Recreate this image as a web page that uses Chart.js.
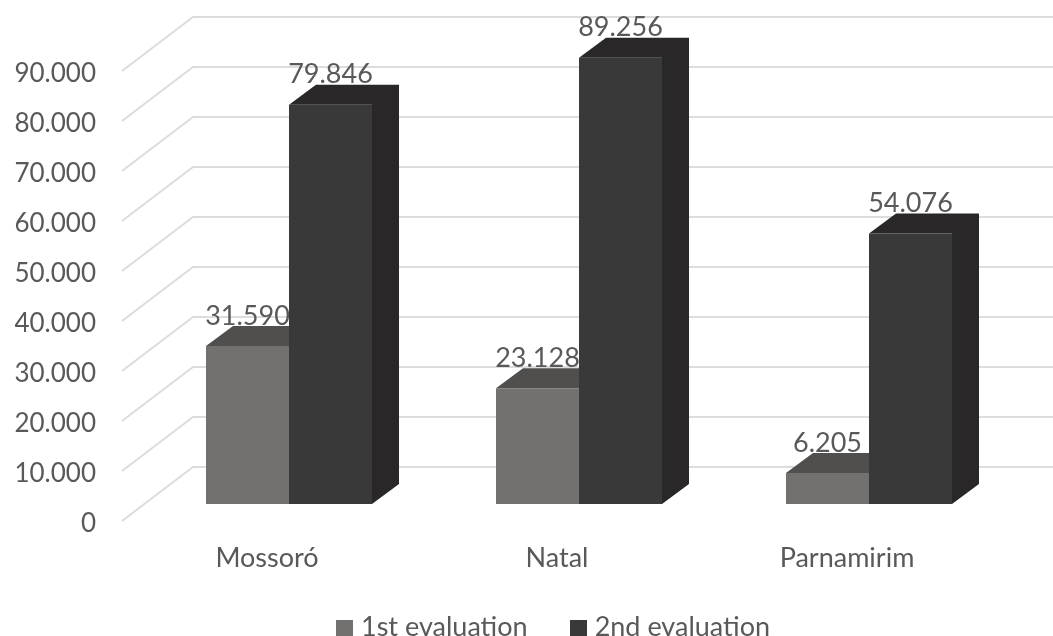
<!DOCTYPE html>
<html>
<head>
<meta charset="utf-8">
<title>Evaluations by city</title>
<script src="https://cdn.jsdelivr.net/npm/chart.js@4/dist/chart.umd.min.js"></script>
<style>
    html, body { margin: 0; padding: 0; background: #fff; overflow: hidden; }
    #wrap { position: relative; width: 1053px; height: 636px; }
    #legend { position: absolute; left: 336px; top: 610px; display: flex; font: 27px Lato, sans-serif; color: #595959; line-height: 32px; white-space: nowrap; }
    #legend .item { display: flex; align-items: center; margin-right: 42px; }
    #legend .box { width: 17px; height: 17px; margin-right: 8px; margin-top: 4px; }
</style>
</head>
<body>
<div id="wrap">
    <canvas id="chart" width="1053" height="636"></canvas>
    <div id="legend"></div>
</div>
<script>
const categories = ['Mossoró', 'Natal', 'Parnamirim'];
const firstEvaluation = [31590, 23128, 6205];
const secondEvaluation = [79846, 89256, 54076];
const seriesNames = ['1st evaluation', '2nd evaluation'];
const yTicks = [0, 10000, 20000, 30000, 40000, 50000, 60000, 70000, 80000, 90000];

const frontColors = ['#737070', '#393939'];
const shadeColors = ['#514f4d', '#292727'];
const textColor = '#595959';
const gridColor = '#dcdcdc';

// depth of the fake 3D box
const barDepthX = 27;
const barDepthY = 20;

function formatNumber(value) {
    return String(value).replace(/\B(?=(\d{3})+$)/g, '.');
}

// Draws the wall gridlines, value labels, and top/side faces behind the bars
const box3d = {
    id: 'box3d',
    beforeDatasetsDraw(chart) {
        const ctx = chart.ctx;
        const y = chart.scales.y;

        ctx.save();
        ctx.strokeStyle = gridColor;
        ctx.lineWidth = 2;
        yTicks.forEach(tick => {
            const py = y.getPixelForValue(tick);
            ctx.beginPath();
            ctx.moveTo(122, py + 17);
            ctx.lineTo(193, py - 37);
            ctx.lineTo(1053, py - 37);
            ctx.stroke();
        });

        chart.data.datasets.forEach((dataset, i) => {
            chart.getDatasetMeta(i).data.forEach((bar, j) => {
                const left = bar.x - bar.width / 2;
                const right = bar.x + bar.width / 2;

                ctx.font = '27px Lato, sans-serif';
                ctx.fillStyle = textColor;
                ctx.textAlign = 'center';
                ctx.textBaseline = 'middle';
                ctx.fillText(formatNumber(dataset.data[j]), bar.x, bar.y - 30);

                ctx.fillStyle = shadeColors[i];
                ctx.beginPath();
                ctx.moveTo(left, bar.y);
                ctx.lineTo(left + barDepthX, bar.y - barDepthY);
                ctx.lineTo(right + barDepthX, bar.y - barDepthY);
                ctx.lineTo(right + barDepthX, bar.base - barDepthY);
                ctx.lineTo(right, bar.base);
                ctx.lineTo(right, bar.y);
                ctx.closePath();
                ctx.fill();
            });
        });
        ctx.restore();
    }
};

new Chart(document.getElementById('chart').getContext('2d'), {
    type: 'bar',
    data: {
        labels: categories,
        datasets: [
            { label: seriesNames[0], data: firstEvaluation, backgroundColor: frontColors[0] },
            { label: seriesNames[1], data: secondEvaluation, backgroundColor: frontColors[1] }
        ]
    },
    options: {
        responsive: false,
        animation: false,
        devicePixelRatio: 1,
        categoryPercentage: 0.5724,
        barPercentage: 1,
        layout: { padding: { top: 54, right: 39, bottom: 0, left: 0 } },
        plugins: {
            legend: { display: false },
            tooltip: { enabled: false }
        },
        scales: {
            x: {
                grid: { display: false },
                border: { display: false },
                afterFit(scale) { scale.height = 132; },
                ticks: {
                    color: textColor,
                    font: { family: 'Lato, sans-serif', size: 27 },
                    padding: 30,
                    labelOffset: -22,
                    maxRotation: 0
                }
            },
            y: {
                min: 0,
                max: 90000,
                grid: { display: false, drawTicks: false },
                border: { display: false },
                // tick padding also pads the top of the axis, so clear that here
                afterFit(scale) {
                    scale.width = 144;
                    scale.paddingTop = 0;
                    scale.paddingBottom = 0;
                },
                afterBuildTicks(scale) { scale.ticks = yTicks.map(value => ({ value })); },
                ticks: {
                    color: textColor,
                    font: { family: 'Lato, sans-serif', size: 26 },
                    padding: 48,
                    labelOffset: 20,
                    callback: value => formatNumber(value)
                }
            }
        }
    },
    plugins: [box3d]
});

// Legend as plain html so the marker sits close to its text
const legend = document.getElementById('legend');
seriesNames.forEach((name, i) => {
    legend.innerHTML += `<div class="item"><span class="box" style="background:${frontColors[i]}"></span><span>${name}</span></div>`;
});
</script>
</body>
</html>
